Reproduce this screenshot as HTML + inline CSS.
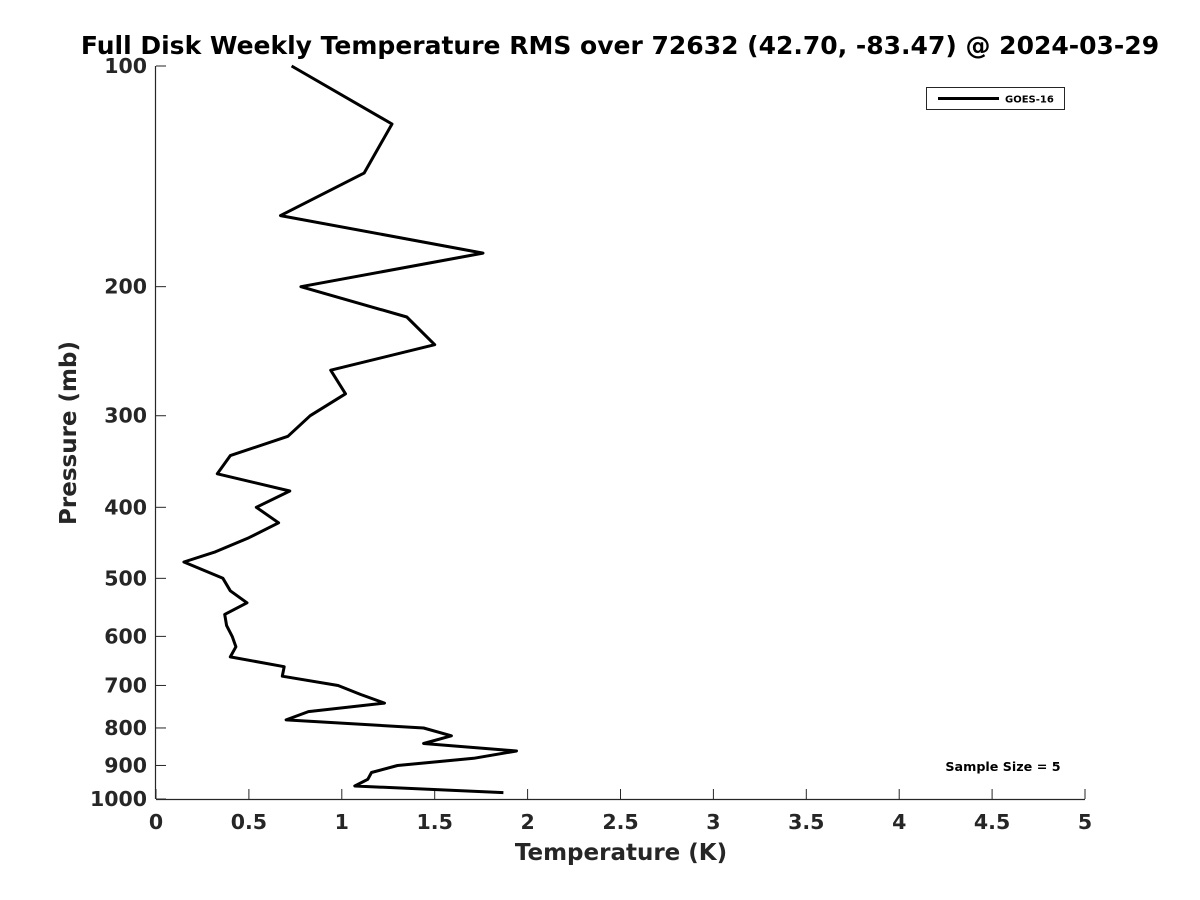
<!DOCTYPE html>
<html><head><meta charset="utf-8"><style>
html,body{margin:0;padding:0;background:#fff;}
svg{display:block;font-family:"DejaVu Sans","Liberation Sans",sans-serif;}
</style></head><body>
<svg id="chart" width="1200" height="900">
<text x="620" y="54" text-anchor="middle" font-size="25" font-weight="bold" fill="#000">Full Disk Weekly Temperature RMS over 72632 (42.70, -83.47) @ 2024-03-29</text>
<g id="axes"></g>
<g id="series"></g>
<text x="621" y="860" text-anchor="middle" font-size="23" font-weight="bold" fill="#262626">Temperature (K)</text>
<text transform="translate(76,433) rotate(-90)" text-anchor="middle" font-size="23" font-weight="bold" fill="#262626">Pressure (mb)</text>
<g>
<rect x="926.5" y="87.5" width="138" height="22" fill="#fff" stroke="#262626" stroke-width="1"/>
<line x1="938" y1="98.5" x2="999" y2="98.5" stroke="#000" stroke-width="3"/>
<text x="1005" y="102.5" font-size="10" font-weight="bold" fill="#000">GOES-16</text>
</g>
<text x="1003" y="771" text-anchor="middle" font-size="12.7" font-weight="bold" fill="#000">Sample Size = 5</text>
</svg>
<script>
const pressures=[100,120,140,160,180,200,220,240,260,280,300,320,340,360,380,400,420,440,460,475,500,520,540,560,580,600,620,640,660,680,700,720,740,760,780,800,820,840,860,880,900,920,940,960,980];
const temps=[0.73,1.27,1.12,0.67,1.76,0.78,1.35,1.50,0.94,1.02,0.83,0.71,0.40,0.33,0.72,0.54,0.66,0.50,0.32,0.15,0.36,0.40,0.49,0.37,0.38,0.41,0.43,0.40,0.69,0.68,0.98,1.10,1.23,0.82,0.70,1.44,1.59,1.44,1.94,1.71,1.30,1.16,1.14,1.07,1.87];
const xTicks=[0,0.5,1,1.5,2,2.5,3,3.5,4,4.5,5];
const yTicks=[100,200,300,400,500,600,700,800,900,1000];
const X0=156,X1=1085,Y0=66,Y1=799,xMin=0,xMax=5,pMin=100,pMax=1000;
const NS="http://www.w3.org/2000/svg";
function xs(v){return X0+(v-xMin)/(xMax-xMin)*(X1-X0);}
function ys(p){return Y0+Math.log10(p/pMin)/Math.log10(pMax/pMin)*(Y1-Y0);}
function mk(tag,attrs,parent){const e=document.createElementNS(NS,tag);for(const k in attrs)e.setAttribute(k,attrs[k]);parent.appendChild(e);return e;}
const axes=document.getElementById('axes');
const xa=mk('line',{x1:X0,y1:Y1+0.5,x2:X1,y2:Y1+0.5,stroke:'#262626','stroke-width':1.2},axes);


const ya=mk('line',{x1:X0-0.5,y1:Y0,x2:X0-0.5,y2:Y1,stroke:'#262626','stroke-width':1.2},axes);


xTicks.forEach(v=>{const x=xs(v);
mk('line',{x1:x,y1:Y1,x2:x,y2:Y1-10,stroke:'#262626','stroke-width':1},axes);
const t=mk('text',{x:x,y:Y1+30,'text-anchor':'middle','font-size':20.5,'font-weight':'bold',fill:'#262626'},axes);
t.textContent=String(v);

});
yTicks.forEach(p=>{const y=ys(p);
mk('line',{x1:X0,y1:y,x2:X0+10,y2:y,stroke:'#262626','stroke-width':1},axes);
const t=mk('text',{x:X0-9,y:y+7,'text-anchor':'end','font-size':20.5,'font-weight':'bold',fill:'#262626'},axes);
t.textContent=String(p);

});
const pts=temps.map((t,i)=>xs(t).toFixed(1)+','+ys(pressures[i]).toFixed(1)).join(' ');
const line=mk('polyline',{points:pts,fill:'none',stroke:'#000','stroke-width':3,'stroke-linejoin':'round'},document.getElementById('series'));


</script>
</body></html>
